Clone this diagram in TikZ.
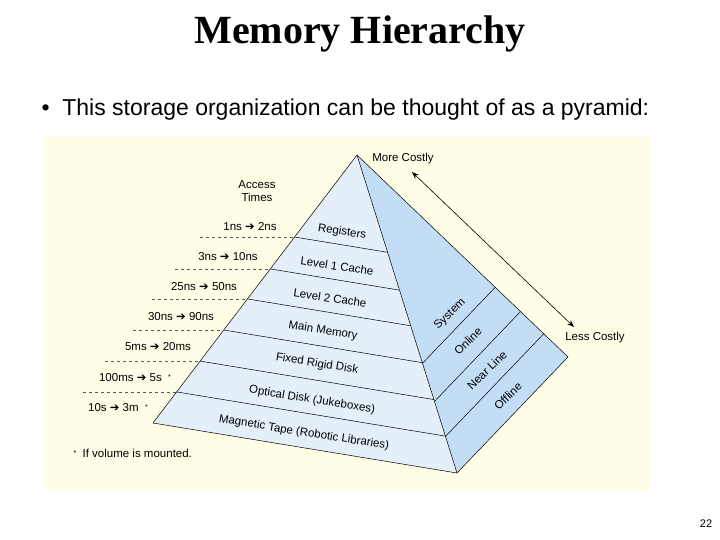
\documentclass[tikz,border=0pt]{standalone}
\usepackage{fontspec}
\setmainfont{Liberation Sans}
\newfontfamily\titlefont{Liberation Serif}
\newfontfamily\symfont{DejaVu Sans}
\usetikzlibrary{arrows.meta,calc}
\newcommand{\arr}{{\symfont\char"2794}}
\definecolor{bgy}{HTML}{FFFDE6}
\definecolor{frontc}{HTML}{E4EFFA}
\definecolor{sidec}{HTML}{C3DDF5}
\begin{document}
\begin{tikzpicture}[x=1pt,y=-1pt,
  lbl/.style={font=\fontsize{11.5}{13}\selectfont},
  dline/.style={dashed,line width=0.5pt,gray!70!black},
  layer/.style={line width=0.5pt}]
\useasboundingbox (0,0) rectangle (720,540);
\fill[white] (0,0) rectangle (720,540);
\fill[bgy] (45,137) rectangle (650,490);
% pyramid
\coordinate (A) at (357,155);
\coordinate (L) at (153,423);
\coordinate (F) at (457,473);
\coordinate (R) at (568,357);
\fill[frontc] (A)--(L)--(F)--cycle;
\fill[sidec] (A)--(F)--(R)--cycle;
\draw[layer] (A)--(L)--(F)--(R)--cycle;
\draw[layer] (A)--(F);
\foreach \t in {0.306,0.425,0.537,0.653,0.769,0.884}{
  \draw[layer] ($(A)!\t!(L)$) -- ($(A)!\t!(F)$);
}
\foreach \t in {0.655,0.775,0.885}{
  \draw[layer] ($(A)!\t!(F)$) -- ($(A)!\t!(R)$);
}
% front labels
\foreach \x/\y/\s in {342/232/Registers,337/266/Level 1 Cache,330/298/Level 2 Cache,323/331/Main Memory,317/364/Fixed Rigid Disk,312/400/Optical Disk (Jukeboxes),304/433/Magnetic Tape (Robotic Libraries)}{
  \node[lbl,rotate=-9,inner sep=1pt] at (\x,\y) {\s};
}
\node[lbl,rotate=44,inner sep=1pt] (sys) at (450,314) {System};
\node[lbl,rotate=44,inner sep=1pt] (onl) at (468,341) {Online};
\node[lbl,rotate=44,inner sep=1pt] (nl) at (487,370) {Near Line};
\node[lbl,rotate=44,inner sep=1pt] (off) at (508,396) {Offline};
% cost arrow
\node[lbl] (more) at (403,159) {More Costly};
\node[lbl] (less) at (595,338) {Less Costly};
\coordinate (c1) at (412,172);
\coordinate (c2) at (574,327);
\draw[{Stealth[length=7pt]}-{Stealth[length=7pt]},line width=0.6pt] (c1)--(c2);
% access times
\node[lbl,align=center] (acc) at (257,191) {Access\\Times};
\node[lbl] at (250,227) {1ns \arr\ 2ns};
\node[lbl] at (228,257) {3ns \arr\ 10ns};
\node[lbl] at (204,287) {25ns \arr\ 50ns};
\node[lbl] at (181,317) {30ns \arr\ 90ns};
\node[lbl] at (158,347) {5ms \arr\ 20ms};
\node[lbl] at (135,378) {100ms \arr\ 5s \ \raisebox{2pt}{\scriptsize *}};
\node[lbl] at (118,408) {10s \arr\ 3m \ \raisebox{2pt}{\scriptsize *}};
\foreach \t/\x in {0.306/200,0.425/175,0.537/152,0.653/133,0.769/105,0.884/83}{
  \draw[dline] (\x,{155+268*\t}) -- ($(A)!\t!(L)$);
}
\node[lbl,anchor=west] (foot) at (70,453) {\raisebox{2pt}{\scriptsize *}\ \ If volume is mounted.};
% title and text
\node[font=\titlefont\bfseries\fontsize{40}{44}\selectfont] (title) at (360,34) {Memory Hierarchy};
\node[anchor=west,font=\fontsize{23}{26}\selectfont] (bul) at (38,110) {•\ \ This storage organization can be thought of as a pyramid:};
\node[font=\fontsize{11}{12}\selectfont] (pg) at (706,524) {22};
\end{tikzpicture}
\end{document}
